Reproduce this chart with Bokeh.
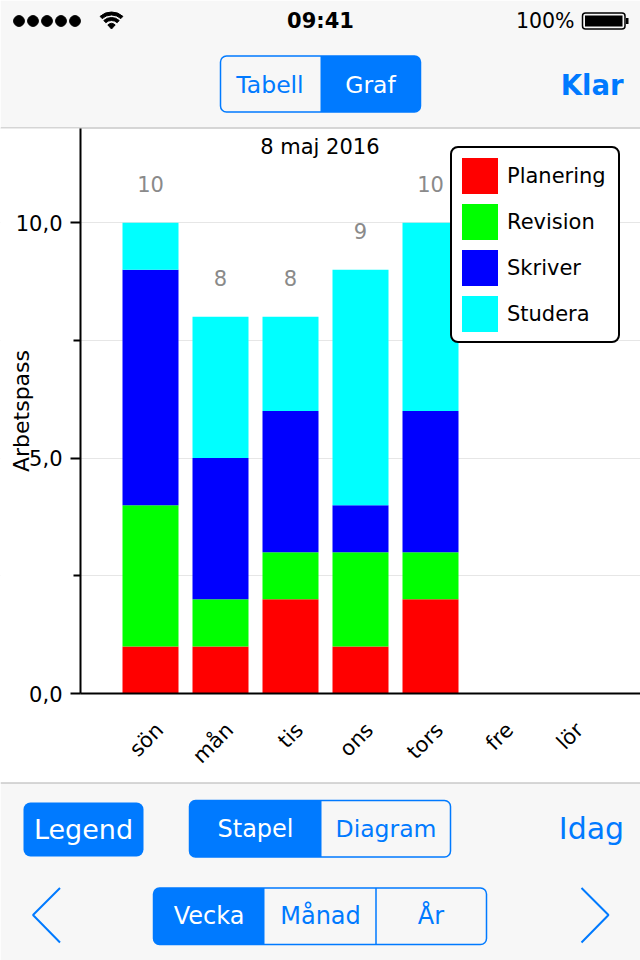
from math import pi, radians
from bokeh.plotting import figure
from bokeh.models import Range1d, FixedTicker, ColumnDataSource, Quad
from bokeh.embed import file_html
from bokeh.resources import INLINE
from bokeh.core.properties import value

# ---------------- data ----------------
days = ["sön", "mån", "tis", "ons", "tors", "fre", "lör"]
categories = ["Planering", "Revision", "Skriver", "Studera"]
colors = ["#ff0000", "#00ff00", "#0000ff", "#00ffff"]
planering = [1, 1, 2, 1, 2, 0, 0]
revision = [3, 1, 1, 2, 1, 0, 0]
skriver = [5, 3, 3, 1, 3, 0, 0]
studera = [1, 3, 2, 5, 4, 0, 0]
y_ticks = [0, 5, 10]
y_tick_labels = ["0,0", "5,0", "10,0"]
y_minor_ticks = [2.5, 7.5]
grid_ticks = [2.5, 5, 7.5, 10]
title_text = "8 maj 2016"
y_label = "Arbetspass"

FONT = "DejaVu Sans"
BLUE = "#007aff"
BAR_BG = "#f7f7f7"
SEP = "#b2b2b2"

HAS_RADIUS = "border_radius" in Quad.properties()
U = dict(x_range_name="px", y_range_name="py")   # screen-pixel coordinates for the phone UI

# chart scale: 70 px per day (day 0 at x=150), 565 px for 12 units (0 at y=693)
p = figure(width=640, height=960,
           x_range=Range1d(-150 / 70, 490 / 70),
           y_range=Range1d(-267 * 12 / 565, 693 * 12 / 565),
           output_backend="svg", toolbar_location=None, min_border=0,
           background_fill_color="white", border_fill_color="white",
           outline_line_color=None)
p.extra_x_ranges = {"px": Range1d(0, 640)}
p.extra_y_ranges = {"py": Range1d(960, 0)}


def rq(left, right, top, bottom, radius=0, **kw):
    if HAS_RADIUS and radius:
        kw["border_radius"] = radius
    p.quad(left=[left], right=[right], top=[top], bottom=[bottom], **U, **kw)


def txt(x, y, s, size, color, align="center", bold=False):
    p.text(x=[x], y=[y], text=[s], text_font=value(FONT),
           text_font_size=value(f"{size}px"), text_color=color,
           text_align=align, text_baseline="middle",
           text_font_style="bold" if bold else "normal", **U)


# ---------------- top bar ----------------
rq(0, 640, 0, 128, fill_color=BAR_BG, line_color=None)
p.segment(x0=[0], y0=[127.5], x1=[640], y1=[127.5], line_color=SEP, line_width=1, **U)
p.circle(x=[18.5, 32.5, 46.5, 60.5, 74.5], y=[20.5] * 5, radius=5.4, color="black", **U)
a0, a1 = radians(48), radians(132)
p.wedge(x=[111], y=[28.5], radius=5.5, start_angle=a0, end_angle=a1,
        color="black", radius_units="screen", **U)
p.annular_wedge(x=[111, 111], y=[28.5, 28.5], inner_radius=[8.5, 14],
                outer_radius=[11.5, 17], start_angle=a0, end_angle=a1,
                color="black", **U)
txt(320, 20, "09:41", 21, "black", bold=True)
txt(574, 20, "100%", 20.5, "black", align="right")
rq(582, 624.5, 12.5, 28.5, radius=3, fill_color=None, line_color="black", line_width=1.5)
rq(584.5, 622, 15, 26, fill_color="black", line_color=None)
rq(625.5, 628, 17.5, 23.5, fill_color="black", line_color=None)

rq(320, 420, 55.5, 111.5, radius=(0, 6, 6, 0), fill_color=BLUE, line_color=None)
rq(220, 420, 55.5, 111.5, radius=6, fill_color=None, line_color=BLUE, line_width=1.5)
txt(269.5, 84, "Tabell", 23.5, BLUE)
txt(370, 84, "Graf", 23.5, "white")
txt(623, 84, "Klar", 27.5, BLUE, align="right", bold=True)

# ---------------- chart ----------------
x_pos = list(range(len(days)))
source = ColumnDataSource(dict(x=x_pos, Planering=planering, Revision=revision,
                               Skriver=skriver, Studera=studera))
p.vbar_stack(categories, x="x", width=0.8, fill_color=colors, line_color=None,
             source=source, legend_label=categories)

totals = [a + b + c + d for a, b, c, d in zip(planering, revision, skriver, studera)]
lab = ColumnDataSource(dict(
    x=[x for x, t in zip(x_pos, totals) if t > 0],
    y=[t for t in totals if t > 0],
    t=[str(t) for t in totals if t > 0]))
p.text(x="x", y="y", text="t", source=lab, text_font=value(FONT),
       text_font_size=value("21px"), text_color="#8a8a8a", text_align="center",
       text_baseline="alphabetic", y_offset=-39)
p.text(x=[2.42], y=[11.6], text=[title_text], text_font=value(FONT),
       text_font_size=value("21px"), text_color="black", text_align="center",
       text_baseline="middle")

p.xgrid.visible = False
p.ygrid.ticker = FixedTicker(ticks=grid_ticks)
p.ygrid.grid_line_color = "#e6e6e6"
# keep grid lines out of the tick-label strip left of the y axis
rq(0, 79, 128, 782, fill_color="white", line_color=None)

yax = p.yaxis[0]
yax.fixed_location = -1
yax.bounds = (0, 12)
yax.ticker = FixedTicker(ticks=y_ticks, minor_ticks=y_minor_ticks)
yax.major_label_overrides = dict(zip(y_ticks, y_tick_labels))
yax.axis_line_width = 2
yax.major_tick_line_width = 2
yax.minor_tick_line_width = 2
yax.major_tick_out = 10
yax.major_tick_in = 0
yax.minor_tick_out = 7
yax.minor_tick_in = 0
yax.major_label_standoff = 8
yax.major_label_text_font = FONT
yax.major_label_text_font_size = "21px"
yax.major_label_text_color = "black"
yax.axis_label = y_label
yax.axis_label_text_font = FONT
yax.axis_label_text_font_size = "22px"
yax.axis_label_text_font_style = "normal"
yax.axis_label_text_color = "black"
yax.axis_label_standoff = -21

x_label_pos = [x + 0.13 for x in x_pos]
xax = p.xaxis[0]
xax.fixed_location = 0
xax.bounds = (-1, 490 / 70)
xax.ticker = FixedTicker(ticks=x_label_pos)
xax.major_label_overrides = dict(zip(x_label_pos, days))
xax.major_label_orientation = pi / 4
xax.axis_line_width = 2
xax.major_tick_line_color = None
xax.minor_tick_line_color = None
xax.major_label_standoff = 27
xax.major_label_text_font = FONT
xax.major_label_text_font_size = "21px"
xax.major_label_text_color = "black"

leg = p.legend[0]
leg.location = (450, 617)
leg.glyph_width = 45
leg.glyph_height = 45
leg.label_height = 45
leg.label_width = 106
leg.spacing = 1
leg.padding = 5
leg.margin = 0
leg.label_standoff = 5
leg.border_line_color = "black"
leg.border_line_alpha = 1
leg.border_line_width = 2
leg.background_fill_color = "white"
leg.background_fill_alpha = 1
leg.label_text_font = FONT
leg.label_text_font_size = "21px"
leg.label_text_color = "black"
try:
    leg.border_radius = 8
except Exception:
    pass

# ---------------- bottom bar ----------------
rq(0, 640, 782, 960, fill_color=BAR_BG, line_color=None)
p.segment(x0=[0], y0=[782.5], x1=[640], y1=[782.5], line_color=SEP, line_width=1, **U)
rq(23, 143, 802, 856, radius=7, fill_color=BLUE, line_color=None)
txt(83, 829, "Legend", 27, "white")
rq(189, 321, 800, 856.5, radius=(6, 0, 0, 6), fill_color=BLUE, line_color=None)
rq(189, 450, 800, 856.5, radius=6, fill_color=None, line_color=BLUE, line_width=1.5)
txt(255, 828, "Stapel", 24, "white")
txt(385.5, 828, "Diagram", 23.5, BLUE)
txt(591, 828, "Idag", 30, BLUE)
p.line(x=[59.5, 32.5, 59.5], y=[887.5, 914.5, 942], line_color=BLUE, line_width=2, **U)
p.line(x=[581, 608, 581], y=[887.5, 914.5, 942], line_color=BLUE, line_width=2, **U)
rq(153, 264, 887.5, 944, radius=(6, 0, 0, 6), fill_color=BLUE, line_color=None)
rq(153, 486, 887.5, 944, radius=6, fill_color=None, line_color=BLUE, line_width=1.5)
p.segment(x0=[375.5], y0=[887.5], x1=[375.5], y1=[944], line_color=BLUE, line_width=1.5, **U)
txt(208.5, 915.5, "Vecka", 24, "white")
txt(320, 915.5, "Månad", 24, BLUE)
txt(430.5, 915.5, "År", 24, BLUE)

open("out.html", "w").write(file_html(p, INLINE))
